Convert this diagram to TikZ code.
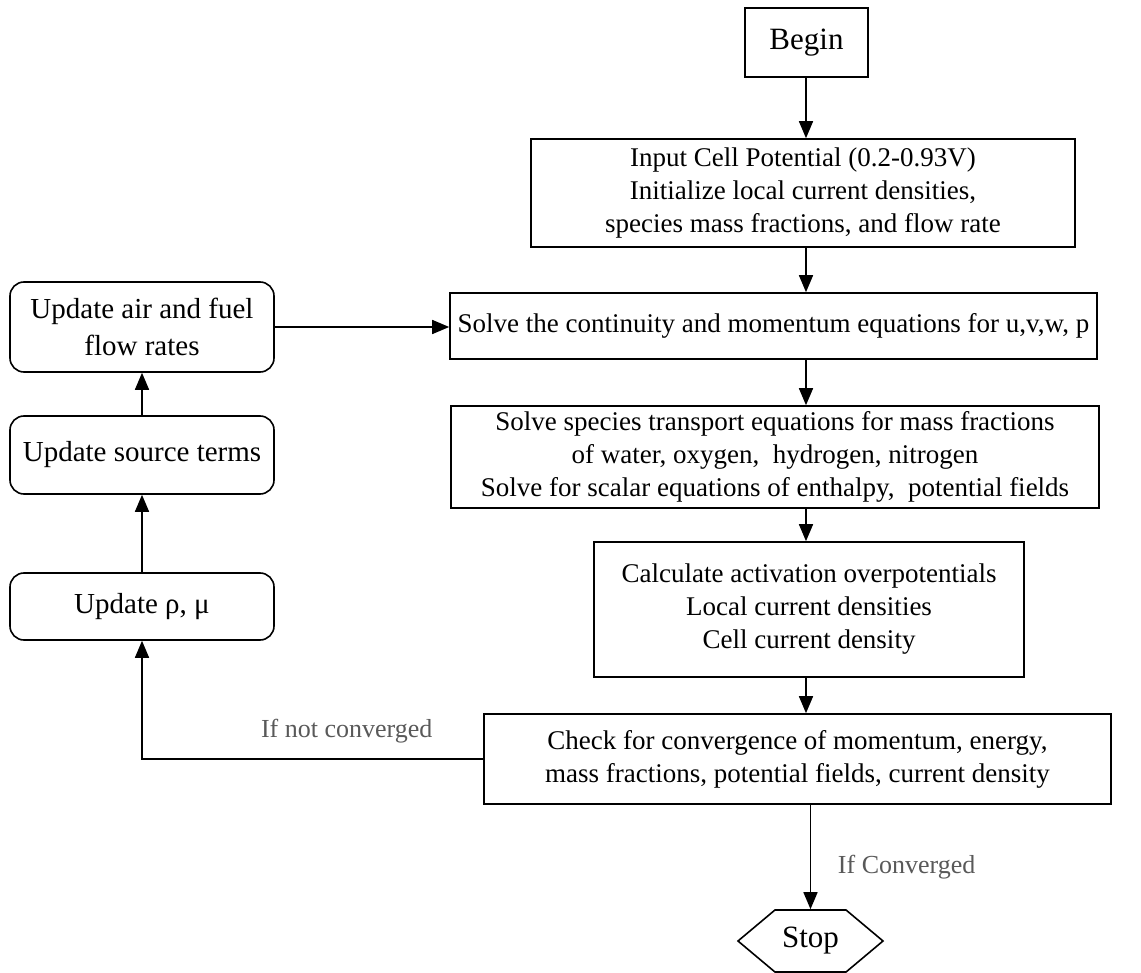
\documentclass[tikz,border=0pt]{standalone}
\usepackage{fontspec}
\setmainfont{Liberation Serif}
\usepackage{tikz}
\usetikzlibrary{arrows.meta,positioning,shapes.symbols}

\tikzset{
  procbox/.style={draw,line width=0.8pt,align=center,inner sep=2pt,font=\fontsize{13.5pt}{16.5pt}\selectfont},
  updbox/.style={draw,line width=0.8pt,rounded corners=7pt,align=center,inner sep=2pt,minimum width=132pt,font=\fontsize{14.5pt}{18.5pt}\selectfont},
  stopbox/.style={draw,line width=0.8pt,signal,signal to=east and west,signal pointer angle=80,inner sep=2pt,font=\fontsize{15.5pt}{17pt}\selectfont},
  flow/.style={-{Triangle[length=8.5pt,width=7pt]},line width=0.8pt},
  lbl/.style={text=black!65,font=\fontsize{13pt}{15pt}\selectfont}
}

\begin{document}
\begin{tikzpicture}[x=0.5pt,y=-0.5pt]
    \useasboundingbox (0,0) rectangle (1141,973);
    % main column
    \node[procbox,font=\fontsize{15.5pt}{17pt}\selectfont,minimum width=61.5pt,minimum height=34.5pt] (begin) at (806.5,42.5) {Begin};
    \node[procbox,minimum width=272pt,minimum height=54pt] (input) at (803,193) {Input Cell Potential (0.2-0.93V)\\Initialize local current densities,\\species mass fractions, and flow rate};
    \node[procbox,minimum width=323.5pt,minimum height=33pt] (solve) at (773.5,326) {Solve the continuity and momentum equations for u,v,w, p};
    \node[procbox,minimum width=324pt,minimum height=51pt] (species) at (775,457) {Solve species transport equations for mass fractions\\of water, oxygen,\ \ hydrogen, nitrogen\\Solve for scalar equations of enthalpy,\ \ potential fields};
    \node[procbox,minimum width=215pt,minimum height=67.5pt] (calc) at (809,609.5) {Calculate activation overpotentials\\Local current densities\\Cell current density};
    \node[procbox,minimum width=313.5pt,minimum height=45pt] (check) at (797.5,759) {Check for convergence of momentum, energy,\\mass fractions, potential fields, current density};
    \node[stopbox,minimum width=72.5pt,minimum height=31pt] (stop) at (810.5,941) {Stop};
    % update loop
    \node[updbox,minimum height=45pt] (air) at (142,327) {Update air and fuel\\flow rates};
    \node[updbox,minimum height=39pt] (source) at (142,455) {Update source terms};
    \node[updbox,minimum height=33.5pt] (rho) at (142,606.5) {Update ρ, μ};
    \coordinate (col) at (806,0);
    % connectors
    \draw[flow] (col |- begin.south) -- (col |- input.north);
    \draw[flow] (col |- input.south) -- (col |- solve.north);
    \draw[flow] (col |- solve.south) -- (col |- species.north);
    \draw[flow] (col |- species.south) -- (col |- calc.north);
    \draw[flow] (col |- calc.south) -- (col |- check.north);
    \draw[flow] (stop |- check.south) -- node[lbl,pos=0.6,right=10pt]{If Converged} (stop.north);
    \draw[flow] (check.west) -| node[lbl,pos=0.2,above=4pt]{If not converged} (rho.south);
    \draw[flow] (rho.north) -- (source.south);
    \draw[flow] (source.north) -- (air.south);
    \draw[flow] (air.east) -- (air.east -| solve.west);
\end{tikzpicture}
\end{document}
